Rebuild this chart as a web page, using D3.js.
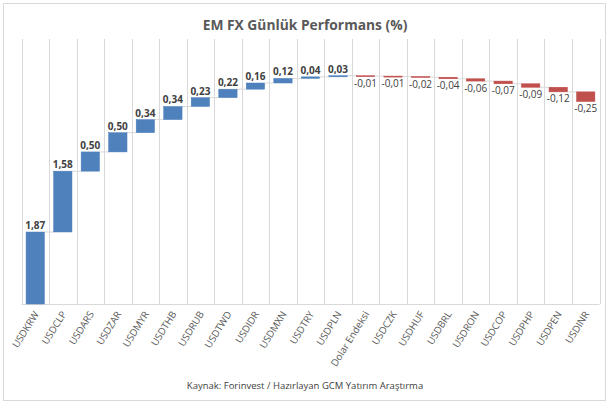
<!DOCTYPE html>
<html lang="tr">
<head>
    <meta charset="UTF-8">
    <title>EM FX Günlük Performans</title>
    <style>
        body { margin: 0; background: #fff; font-family: 'Open Sans', sans-serif; }
        .grid line { stroke: #d9d9d9; stroke-width: 1; }
        .xlabel { font-size: 9.8px; fill: #595959; }
        .val { font-size: 10px; fill: #404040; }
        .val.pos { font-weight: bold; }
    </style>
</head>
<body>
    <div id="chart"></div>

    <script src="https://d3js.org/d3.v7.min.js"></script>
    <script>
        // veriler
        const categories = ['USDKRW', 'USDCLP', 'USDARS', 'USDZAR', 'USDMYR', 'USDTHB', 'USDRUB',
            'USDTWD', 'USDIDR', 'USDMXN', 'USDTRY', 'USDPLN', 'Dolar Endeksi', 'USDCZK', 'USDHUF',
            'USDBRL', 'USDRON', 'USDCOP', 'USDPHP', 'USDPEN', 'USDINR'];
        const values = [1.87, 1.58, 0.50, 0.50, 0.34, 0.34, 0.23, 0.22, 0.16, 0.12, 0.04, 0.03,
            -0.01, -0.01, -0.02, -0.04, -0.06, -0.07, -0.09, -0.12, -0.25];

        const W = 610, H = 404;
        const plot = {left: 21.5, right: 599.5, top: 39, bottom: 304};

        const svg = d3.select("#chart").append("svg")
            .attr("width", W).attr("height", H);

        // çerçeve
        svg.append("rect")
            .attr("x", 3.5).attr("y", 3.5)
            .attr("width", W - 8).attr("height", H - 7)
            .attr("fill", "#fff").attr("stroke", "#d9d9d9");

        svg.append("text")
            .attr("x", W / 2).attr("y", 30)
            .attr("text-anchor", "middle")
            .attr("font-size", "13.8px").attr("font-weight", "bold")
            .attr("fill", "#595959")
            .text("EM FX Günlük Performans (%)");

        // kümülatif başlangıç / bitiş
        let run = 0;
        const data = categories.map((c, i) => {
            const start = run;
            run += values[i];
            return {cat: c, v: values[i], start: start, end: run};
        });

        const x = d3.scaleBand()
            .domain(categories)
            .range([plot.left, plot.right])
            .paddingInner(0).paddingOuter(0);

        const y = d3.scaleLinear()
            .domain([0, (plot.bottom - plot.top) / 38.5])
            .range([plot.bottom, plot.top]);

        const bw = x.bandwidth() / 1.5;

        // dikey grid çizgileri
        const grid = svg.append("g").attr("class", "grid");
        grid.selectAll("line.v")
            .data(categories.concat(["_end"]))
            .join("line")
            .attr("class", "v")
            .attr("x1", (d, i) => Math.round(plot.left + i * x.step()) + 0.5)
            .attr("x2", (d, i) => Math.round(plot.left + i * x.step()) + 0.5)
            .attr("y1", plot.top).attr("y2", plot.bottom);
        grid.append("line")
            .attr("x1", plot.left).attr("x2", plot.right)
            .attr("y1", plot.bottom + 0.5).attr("y2", plot.bottom + 0.5);

        // bağlantı çizgileri
        svg.selectAll(".conn")
            .data(data.slice(0, -1))
            .join("line")
            .attr("class", "conn")
            .attr("x1", d => x(d.cat) + x.bandwidth() / 2 + bw / 2)
            .attr("x2", (d, i) => x(data[i + 1].cat) + x.bandwidth() / 2 - bw / 2)
            .attr("y1", d => y(d.end)).attr("y2", d => y(d.end))
            .attr("stroke", "#d9d9d9").attr("stroke-width", 1);

        // barlar
        svg.selectAll(".bar")
            .data(data)
            .join("rect")
            .attr("class", "bar")
            .attr("x", d => x(d.cat) + x.bandwidth() / 2 - bw / 2)
            .attr("width", bw)
            .attr("y", d => y(Math.max(d.start, d.end)))
            .attr("height", d => Math.max(1, Math.abs(y(d.start) - y(d.end))))
            .attr("fill", d => d.v >= 0 ? "#4f81bd" : "#c0504d")
            .attr("stroke", d => d.v >= 0 ? "#4a7ebb" : "#be4b48")
            .attr("stroke-width", 0.5);

        // değer etiketleri
        const fmt = v => v.toFixed(2).replace(".", ",");
        svg.selectAll(".val")
            .data(data)
            .join("text")
            .attr("class", d => d.v >= 0 ? "val pos" : "val neg")
            .attr("x", d => x(d.cat) + x.bandwidth() / 2)
            .attr("y", d => d.v >= 0 ? y(d.end) - 3 : y(d.end) + 10.5)
            .attr("text-anchor", "middle")
            .text(d => fmt(d.v));

        // x ekseni etiketleri
        svg.selectAll(".xlabel")
            .data(categories)
            .join("text")
            .attr("class", "xlabel")
            .attr("text-anchor", "end")
            .attr("transform", d => `translate(${x(d) + x.bandwidth() / 2 + 4},${plot.bottom + 10}) rotate(-58)`)
            .text(d => d);

        svg.append("text")
            .attr("x", W / 2).attr("y", 389)
            .attr("text-anchor", "middle")
            .attr("font-size", "9.5px").attr("fill", "#404040")
            .text("Kaynak: Forinvest / Hazırlayan GCM Yatırım Araştırma");
    </script>
</body>
</html>
